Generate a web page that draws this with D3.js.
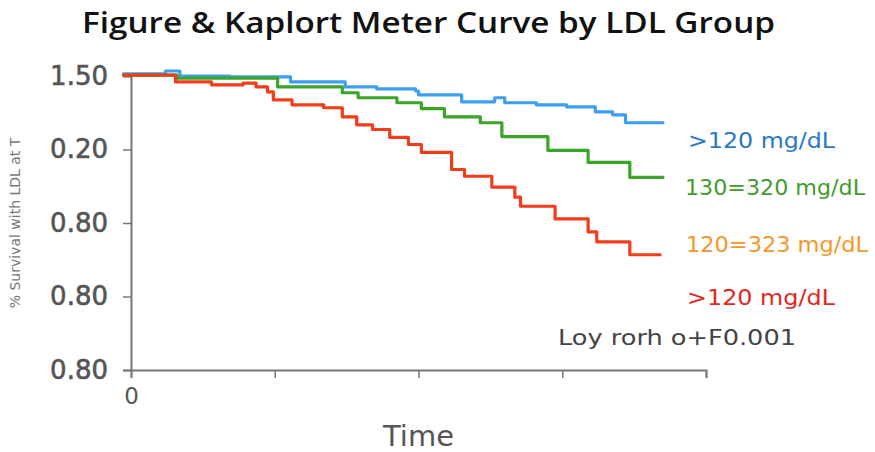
<!DOCTYPE html>
<html>
<head>
<meta charset="utf-8">
<script src="https://cdn.jsdelivr.net/npm/d3@7"></script>
<style>
  body { margin: 0; background: #fff; }
  svg { display: block; }
</style>
</head>
<body>
<div id="chart"></div>
<script>
// chart size
let width = 875;
let height = 452;

// y ticks (survival scale) and the labels printed on them
let yTicks = [0, 0.25, 0.5, 0.75, 1];
let yTickLabels = ["0.80", "0.80", "0.80", "0.20", "1.50"];

// x ticks (time)
let xTicks = [0, 1, 2, 3, 4];
let xTickLabels = ["0", "", "", "", ""];

// step curves: time of each step and survival after it
let blueTime = [-0.06, 0.24, 0.34, 0.69, 1.11, 1.49, 1.71, 1.98, 2.00, 2.30, 2.53, 2.60, 2.82, 3.03, 3.23, 3.35, 3.44, 3.71];
let blueSurv = [1.007, 1.017, 1.000, 0.997, 0.980, 0.963, 0.956, 0.949, 0.936, 0.912, 0.926, 0.909, 0.902, 0.895, 0.878, 0.868, 0.841, 0.841];

let greenTime = [-0.06, 0.32, 1.02, 1.47, 1.58, 1.85, 2.02, 2.18, 2.43, 2.58, 2.90, 3.18, 3.47, 3.71];
let greenSurv = [1.003, 0.993, 0.963, 0.943, 0.926, 0.909, 0.889, 0.861, 0.841, 0.794, 0.747, 0.706, 0.655, 0.655];

let redTime = [-0.06, 0.31, 0.56, 0.78, 0.87, 0.95, 0.99, 1.12, 1.34, 1.47, 1.57, 1.68, 1.80, 1.93, 2.02, 2.23, 2.32, 2.51, 2.67, 2.71, 2.95, 3.18, 3.24, 3.47, 3.69];
let redSurv = [1.003, 0.980, 0.970, 0.976, 0.963, 0.946, 0.919, 0.902, 0.892, 0.861, 0.834, 0.818, 0.791, 0.767, 0.740, 0.682, 0.659, 0.622, 0.588, 0.557, 0.514, 0.470, 0.436, 0.392, 0.392];

// legend texts
let legendLabels = [">120 mg/dL", "130=320 mg/dL", "120=323 mg/dL", ">120 mg/dL"];
let legendColors = ["#2a78c8", "#3f9c2c", "#f5962a", "#e3261c"];

let title = "Figure & Kaplort Meter Curve by LDL Group";
let pText = "Loy rorh o+F0.001";
let xLabel = "Time";
let yLabel = "% Survival with LDL at T";

let x = d3.scaleLinear().domain([0, 4]).range([131, 706]);
let y = d3.scaleLinear().domain([0, 1]).range([370, 76]);

let svg = d3.select("#chart")
            .append("svg")
            .attr("width", width)
            .attr("height", height);

svg.append("rect")
   .attr("width", width)
   .attr("height", height)
   .attr("fill", "#fff");

// title
svg.append("text")
   .attr("x", 82)
   .attr("y", 33)
   .attr("textLength", 693)
   .attr("lengthAdjust", "spacingAndGlyphs")
   .style("font-family", "'Open Sans', sans-serif")
   .style("font-weight", 600)
   .style("font-size", "29px")
   .style("fill", "#111")
   .text(title);

// axes
let yAxis = svg.append("g")
               .attr("transform", "translate(" + x(0) + ",0)")
               .call(d3.axisLeft(y)
                       .tickValues(yTicks)
                       .tickSize(8)
                       .tickPadding(15)
                       .tickFormat(function(d, i) { return yTickLabels[i]; }));

let xAxis = svg.append("g")
               .attr("transform", "translate(0," + y(0) + ")")
               .call(d3.axisBottom(x)
                       .tickValues(xTicks)
                       .tickSize(8)
                       .tickPadding(6)
                       .tickFormat(function(d, i) { return xTickLabels[i]; }));

[yAxis, xAxis].forEach(function(a) {
  a.select(".domain").attr("stroke", "#777").attr("stroke-width", 2);
  a.selectAll(".tick line").attr("stroke", "#777").attr("stroke-width", 1.5);
  a.selectAll(".tick text")
   .attr("fill", "#555")
   .style("font-family", "'DejaVu Sans', sans-serif");
});
yAxis.selectAll(".tick text")
     .style("font-size", "26px")
     .attr("stroke", "#555")
     .attr("stroke-width", 0.6);
xAxis.selectAll(".tick text").style("font-size", "23px").attr("dy", "0.85em");

// axis titles
svg.append("text")
   .attr("x", x(2))
   .attr("y", 446)
   .attr("text-anchor", "middle")
   .style("font-family", "'DejaVu Sans', sans-serif")
   .style("font-size", "29px")
   .style("fill", "#555")
   .text(xLabel);

svg.append("text")
   .attr("transform", "translate(20," + y(0.5) + ") rotate(-90)")
   .attr("text-anchor", "middle")
   .style("font-family", "'DejaVu Sans', sans-serif")
   .style("font-size", "14px")
   .style("fill", "#777")
   .text(yLabel);

// curves
let line = d3.line()
             .x(function(d) { return x(d[0]); })
             .y(function(d) { return y(d[1]); })
             .curve(d3.curveStepAfter);

let curves = [
  {t: blueTime, s: blueSurv, color: "#3d9ff0"},
  {t: greenTime, s: greenSurv, color: "#3aa529"},
  {t: redTime, s: redSurv, color: "#f23c1a"}
];

svg.selectAll("path.curve")
   .data(curves)
   .enter()
   .append("path")
   .attr("class", "curve")
   .attr("d", function(c) { return line(d3.zip(c.t, c.s)); })
   .style("fill", "none")
   .style("stroke", function(c) { return c.color; })
   .style("stroke-width", 3.2)
   .style("stroke-linejoin", "round");

// labels at right
let legendY = [148, 195, 252, 305];
let legendX = [688, 685, 686, 687];
let legendW = [147, 180, 182, 148];

svg.selectAll("text.legend")
   .data(legendLabels)
   .enter()
   .append("text")
   .attr("class", "legend")
   .attr("x", function(d, i) { return legendX[i]; })
   .attr("y", function(d, i) { return legendY[i]; })
   .attr("textLength", function(d, i) { return legendW[i]; })
   .attr("lengthAdjust", "spacingAndGlyphs")
   .style("font-family", "'DejaVu Sans', sans-serif")
   .style("font-size", "21px")
   .style("fill", function(d, i) { return legendColors[i]; })
   .text(function(d) { return d; });

svg.append("text")
   .attr("x", 558)
   .attr("y", 345)
   .attr("textLength", 238)
   .attr("lengthAdjust", "spacingAndGlyphs")
   .style("font-family", "'DejaVu Sans', sans-serif")
   .style("font-size", "21px")
   .style("fill", "#444")
   .text(pText);
</script>
</body>
</html>
